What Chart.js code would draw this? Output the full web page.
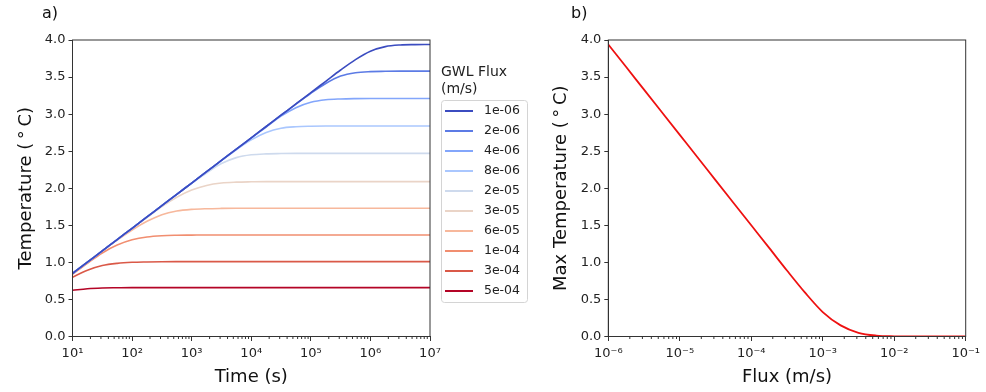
<!DOCTYPE html>
<html>
<head>
<meta charset="utf-8">
<script src="https://cdn.jsdelivr.net/npm/chart.js@4"></script>
<style>
  body { margin: 0; background: #fff; }
  #wrap { position: relative; width: 986px; height: 392px; font-family: "DejaVu Sans", sans-serif; }
  canvas { position: absolute; top: 0; }
  .panel { position: absolute; top: 3px; font-size: 16px; color: #111; }
</style>
</head>
<body>
<div id="wrap">
  <canvas id="chartA" width="540" height="392" style="left:0"></canvas>
  <canvas id="chartB" width="446" height="392" style="left:540px"></canvas>
  <div class="panel" style="left:42px">a)</div>
  <div class="panel" style="left:571px">b)</div>
</div>
<script>
// temps (s), un point par quart de décade
const times = [10, 17.8, 31.6, 56.2, 100, 178, 316, 562, 1e3, 1.78e3, 3.16e3, 5.62e3,
  1e4, 1.78e4, 3.16e4, 5.62e4, 1e5, 1.78e5, 3.16e5, 5.62e5, 1e6, 1.78e6, 3.16e6, 5.62e6, 1e7];

const fluxLabels = ['1e-06', '2e-06', '4e-06', '8e-06', '2e-05', '3e-05', '6e-05', '1e-04', '3e-04', '5e-04'];

// couleurs "coolwarm"
const fluxColors = ['#3b4cc0', '#5c7be5', '#83a6fb', '#aac7fe', '#cedaed',
  '#ead4c7', '#f7b89c', '#f18e70', '#da5948', '#b40426'];

// température (°C) lue sur la figure a)
const temp1e6 = [0.85, 1.003, 1.155, 1.308, 1.46, 1.613, 1.765, 1.918, 2.07, 2.223, 2.375, 2.528, 2.68, 2.833, 2.985, 3.138, 3.29, 3.443, 3.595, 3.736, 3.849, 3.911, 3.933, 3.938, 3.94];
const temp2e6 = [0.85, 1.003, 1.155, 1.308, 1.46, 1.613, 1.765, 1.918, 2.07, 2.223, 2.375, 2.528, 2.68, 2.833, 2.985, 3.136, 3.282, 3.413, 3.513, 3.559, 3.574, 3.578, 3.58, 3.58, 3.58];
const temp4e6 = [0.85, 1.003, 1.155, 1.308, 1.46, 1.613, 1.765, 1.918, 2.07, 2.223, 2.375, 2.528, 2.679, 2.825, 2.972, 3.087, 3.16, 3.194, 3.205, 3.209, 3.21, 3.21, 3.21, 3.21, 3.21];
const temp8e6 = [0.85, 1.003, 1.155, 1.308, 1.46, 1.613, 1.765, 1.918, 2.07, 2.222, 2.372, 2.519, 2.652, 2.752, 2.81, 2.83, 2.837, 2.84, 2.84, 2.84, 2.84, 2.84, 2.84, 2.84, 2.84];
const temp2e5 = [0.85, 1.003, 1.155, 1.308, 1.46, 1.613, 1.765, 1.917, 2.066, 2.206, 2.333, 2.413, 2.451, 2.464, 2.468, 2.47, 2.47, 2.47, 2.47, 2.47, 2.47, 2.47, 2.47, 2.47, 2.47];
const temp3e5 = [0.85, 1.003, 1.155, 1.307, 1.458, 1.604, 1.753, 1.878, 1.975, 2.038, 2.07, 2.082, 2.087, 2.09, 2.09, 2.09, 2.09, 2.09, 2.09, 2.09, 2.09, 2.09, 2.09, 2.09, 2.09];
const temp6e5 = [0.85, 1.002, 1.152, 1.299, 1.437, 1.554, 1.644, 1.693, 1.715, 1.724, 1.728, 1.73, 1.73, 1.73, 1.73, 1.73, 1.73, 1.73, 1.73, 1.73, 1.73, 1.73, 1.73, 1.73, 1.73];
const temp1e4 = [0.84, 0.988, 1.127, 1.233, 1.304, 1.343, 1.36, 1.366, 1.368, 1.37, 1.37, 1.37, 1.37, 1.37, 1.37, 1.37, 1.37, 1.37, 1.37, 1.37, 1.37, 1.37, 1.37, 1.37, 1.37];
const temp3e4 = [0.80, 0.894, 0.957, 0.987, 1.001, 1.006, 1.009, 1.01, 1.01, 1.01, 1.01, 1.01, 1.01, 1.01, 1.01, 1.01, 1.01, 1.01, 1.01, 1.01, 1.01, 1.01, 1.01, 1.01, 1.01];
const temp5e4 = [0.623, 0.645, 0.655, 0.658, 0.66, 0.66, 0.66, 0.66, 0.66, 0.66, 0.66, 0.66, 0.66, 0.66, 0.66, 0.66, 0.66, 0.66, 0.66, 0.66, 0.66, 0.66, 0.66, 0.66, 0.66];

const tempSeries = [temp1e6, temp2e6, temp4e6, temp8e6, temp2e5, temp3e5, temp6e5, temp1e4, temp3e4, temp5e4];

// figure b) : température max en fonction du flux
const flux = [1e-6, 1.78e-6, 3.16e-6, 5.62e-6, 1e-5, 1.78e-5, 3.16e-5, 5.62e-5, 1e-4, 1.78e-4, 3.16e-4,
  5.62e-4, 1e-3, 1.78e-3, 3.16e-3, 5.62e-3, 1e-2, 1.78e-2, 3.16e-2, 5.62e-2, 1e-1];
const maxTemp = [3.94, 3.635, 3.33, 3.025, 2.72, 2.415, 2.11, 1.805, 1.50, 1.195, 0.89,
  0.595, 0.33, 0.15, 0.05, 0.012, 0.002, 0, 0, 0, 0];

const yTicks = [0, 0.5, 1, 1.5, 2, 2.5, 3, 3.5, 4];
const timeTicks = [1e1, 1e2, 1e3, 1e4, 1e5, 1e6, 1e7];
const fluxTicks = [1e-6, 1e-5, 1e-4, 1e-3, 1e-2, 1e-1];

const FONT = 'DejaVu Sans';
const sup = { '-': '\u207B', '0': '\u2070', '1': '\u00B9', '2': '\u00B2', '3': '\u00B3', '4': '\u2074',
  '5': '\u2075', '6': '\u2076', '7': '\u2077', '8': '\u2078', '9': '\u2079' };
function powLabel(v) {
  const e = String(Math.round(Math.log10(v)));
  return '10' + e.split('').map(c => sup[c]).join('');
}

// cadre complet + petites graduations mineures sur l'axe log
const boxPlugin = {
  id: 'box',
  afterDraw(chart) {
    const { ctx, chartArea: a } = chart;
    const x = chart.scales.x;
    ctx.save();
    ctx.strokeStyle = '#333';
    ctx.lineWidth = 1;
    ctx.strokeRect(a.left, a.top, a.right - a.left, a.bottom - a.top);
    const lo = Math.round(Math.log10(x.min)), hi = Math.round(Math.log10(x.max));
    ctx.beginPath();
    for (let e = lo; e < hi; e++) {
      for (let k = 2; k < 10; k++) {
        const px = x.getPixelForValue(k * Math.pow(10, e));
        ctx.moveTo(px, a.bottom);
        ctx.lineTo(px, a.bottom + 2.5);
      }
    }
    ctx.stroke();
    ctx.restore();
  }
};

// légende dessinée à droite du graphique a)
const legendPlugin = {
  id: 'fluxLegend',
  afterDraw(chart) {
    const ctx = chart.ctx;
    const x0 = 441, top = 100, rowH = 20;
    const sets = chart.data.datasets;
    ctx.save();
    ctx.fillStyle = '#222';
    ctx.font = '14px ' + FONT;
    ctx.textBaseline = 'middle';
    ctx.textAlign = 'left';
    ctx.fillText('GWL Flux', x0, 72);
    ctx.fillText('(m/s)', x0, 89);
    ctx.strokeStyle = '#d4d4d4';
    ctx.lineWidth = 1;
    ctx.beginPath();
    ctx.roundRect(x0 + 0.5, top + 0.5, 86, 202, 3);
    ctx.stroke();
    ctx.font = '12.5px ' + FONT;
    ctx.textAlign = 'right';
    sets.forEach((ds, i) => {
      const y = top + 11 + i * rowH;
      ctx.strokeStyle = ds.borderColor;
      ctx.lineWidth = 2;
      ctx.beginPath();
      ctx.moveTo(445, y);
      ctx.lineTo(473, y);
      ctx.stroke();
      ctx.fillText(ds.label, 520, y);
    });
    ctx.restore();
  }
};

function yAxis(title, width, titlePad) {
  return {
    min: 0, max: 4,
    afterBuildTicks: s => { s.ticks = yTicks.map(v => ({ value: v })); },
    afterFit: s => { s.width = width; },
    ticks: { color: '#222', font: { family: FONT, size: 13 }, padding: 3, callback: v => v.toFixed(1) },
    grid: { drawOnChartArea: false, drawTicks: true, tickLength: 4, color: '#333' },
    border: { color: '#333', width: 1 },
    title: { display: true, text: title, color: '#111', font: { family: FONT, size: 18 }, padding: { top: titlePad } }
  };
}

function xAxis(title, min, max, tickVals) {
  return {
    type: 'logarithmic', min: min, max: max,
    afterBuildTicks: s => { s.ticks = tickVals.map(v => ({ value: v })); },
    afterFit: s => { s.height = 55.5; },
    ticks: { color: '#222', font: { family: FONT, size: 13 }, padding: 5, maxRotation: 0, autoSkip: false, callback: v => powLabel(v) },
    grid: { drawOnChartArea: false, drawTicks: true, tickLength: 4.5, color: '#333' },
    border: { color: '#333', width: 1 },
    title: { display: true, text: title, color: '#111', font: { family: FONT, size: 18 }, padding: { top: 0, bottom: 4 } }
  };
}

const common = {
  responsive: false,
  animation: false,
  devicePixelRatio: 1,
  plugins: { legend: { display: false }, tooltip: { enabled: false } },
  elements: { point: { radius: 0 }, line: { cubicInterpolationMode: 'monotone' } }
};

new Chart(document.getElementById('chartA'), {
  type: 'line',
  data: {
    datasets: tempSeries.map((vals, i) => ({
      label: fluxLabels[i],
      data: times.map((t, j) => ({ x: t, y: vals[j] })),
      borderColor: fluxColors[i],
      borderWidth: 1.6
    }))
  },
  options: Object.assign({}, common, {
    layout: { padding: { left: 0, top: 40, right: 110, bottom: 0 } },
    scales: {
      x: xAxis('Time (s)', 10, 1e7, timeTicks),
      y: yAxis('Temperature (\u2009\u00B0\u2009C)', 72.5, 16)
    }
  }),
  plugins: [boxPlugin, legendPlugin]
});

new Chart(document.getElementById('chartB'), {
  type: 'line',
  data: {
    datasets: [{
      label: 'Max Temperature',
      data: flux.map((q, j) => ({ x: q, y: maxTemp[j] })),
      borderColor: '#ee1111',
      borderWidth: 1.8
    }]
  },
  options: Object.assign({}, common, {
    layout: { padding: { left: 0, top: 40, right: 20.3, bottom: 0 } },
    scales: {
      x: xAxis('Flux (m/s)', 1e-6, 1e-1, fluxTicks),
      y: yAxis('Max Temperature (\u2009\u00B0\u2009C)', 68.3, 11)
    }
  }),
  plugins: [boxPlugin]
});
</script>
</body>
</html>
